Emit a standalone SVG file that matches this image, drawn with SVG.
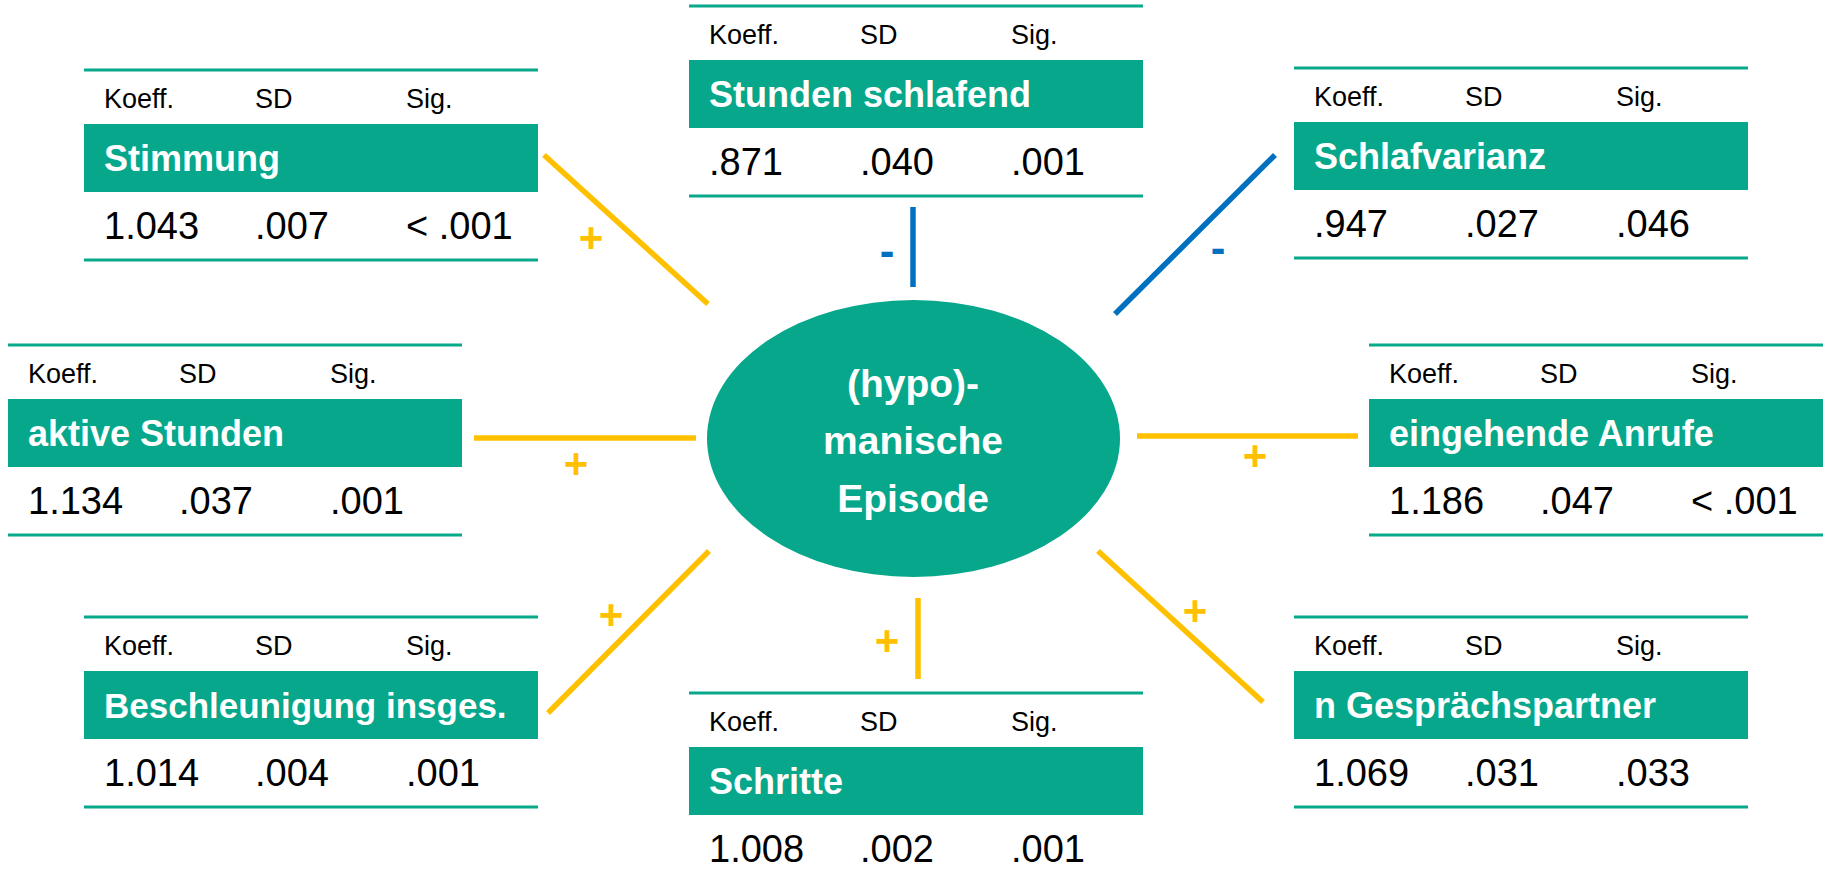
<svg xmlns="http://www.w3.org/2000/svg" width="1828" height="880" viewBox="0 0 1828 880">
<style>
.rule{stroke:#08A88B;stroke-width:3;fill:none}
.band{fill:#06A78A}
.hd{font-family:"Liberation Sans",Arial,sans-serif;font-size:27px;fill:#000}
.lb{font-family:"Liberation Sans",Arial,sans-serif;font-size:36px;font-weight:bold;fill:#fff}
.val{font-family:"Liberation Sans",Arial,sans-serif;font-size:38px;fill:#000}
.ctr{font-family:"Liberation Sans",Arial,sans-serif;font-size:39px;font-weight:bold;fill:#fff;text-anchor:middle}
.pos{stroke:#FFC000;stroke-width:5.5;fill:none}
.neg{stroke:#0070C0;stroke-width:5.5;fill:none}
.plus{font-family:"Liberation Sans",Arial,sans-serif;font-size:42px;font-weight:bold;fill:#FFC000;text-anchor:middle}
.minus{font-family:"Liberation Sans",Arial,sans-serif;font-size:44px;font-weight:bold;fill:#0070C0;text-anchor:middle}
</style>
<defs>
<g id="frame">
<line class="rule" x1="0" y1="0" x2="454" y2="0"/>
<text class="hd" x="20" y="38">Koeff.</text>
<text class="hd" x="171" y="38">SD</text>
<text class="hd" x="322" y="38">Sig.</text>
<rect class="band" x="0" y="54" width="454" height="68"/>
<line class="rule" x1="0" y1="190" x2="454" y2="190"/>
</g>
</defs>
<rect width="1828" height="880" fill="#fff"/>
<g id="connectors">
<line class="pos" x1="544" y1="155" x2="708" y2="304"/>
<line class="neg" x1="913" y1="207" x2="913" y2="287"/>
<line class="neg" x1="1275" y1="155" x2="1115" y2="314"/>
<line class="pos" x1="474" y1="438" x2="696" y2="438"/>
<line class="pos" x1="1137" y1="436" x2="1358" y2="436"/>
<line class="pos" x1="709" y1="551" x2="548" y2="713"/>
<line class="pos" x1="1098" y1="551" x2="1263" y2="702"/>
<line class="pos" x1="918" y1="598" x2="918" y2="679"/>
<text class="plus" x="591" y="252">+</text>
<text class="minus" x="887" y="266">-</text>
<text class="minus" x="1218" y="263">-</text>
<text class="plus" x="576" y="478">+</text>
<text class="plus" x="1255" y="470">+</text>
<text class="plus" x="611" y="629">+</text>
<text class="plus" x="1195" y="625">+</text>
<text class="plus" x="887" y="655">+</text>
</g>
<g id="center">
<ellipse cx="913.5" cy="438.5" rx="206.5" ry="138.5" fill="#06A78A"/>
<text class="ctr" x="913" y="397">(hypo)-</text>
<text class="ctr" x="913" y="454">manische</text>
<text class="ctr" x="913" y="512">Episode</text>
</g>
<g id="stunden-schlafend" transform="translate(689,6)">
<use href="#frame"/>
<text class="lb" x="20" y="101">Stunden schlafend</text>
<text class="val" x="20" y="169">.871</text>
<text class="val" x="171" y="169">.040</text>
<text class="val" x="322" y="169">.001</text>
</g>
<g id="stimmung" transform="translate(84,70)">
<use href="#frame"/>
<text class="lb" x="20" y="101">Stimmung</text>
<text class="val" x="20" y="169">1.043</text>
<text class="val" x="171" y="169">.007</text>
<text class="val" x="322" y="169">&lt; .001</text>
</g>
<g id="schlafvarianz" transform="translate(1294,68)">
<use href="#frame"/>
<text class="lb" x="20" y="101">Schlafvarianz</text>
<text class="val" x="20" y="169">.947</text>
<text class="val" x="171" y="169">.027</text>
<text class="val" x="322" y="169">.046</text>
</g>
<g id="aktive-stunden" transform="translate(8,345)">
<use href="#frame"/>
<text class="lb" x="20" y="101">aktive Stunden</text>
<text class="val" x="20" y="169">1.134</text>
<text class="val" x="171" y="169">.037</text>
<text class="val" x="322" y="169">.001</text>
</g>
<g id="eingehende-anrufe" transform="translate(1369,345)">
<use href="#frame"/>
<text class="lb" x="20" y="101">eingehende Anrufe</text>
<text class="val" x="20" y="169">1.186</text>
<text class="val" x="171" y="169">.047</text>
<text class="val" x="322" y="169">&lt; .001</text>
</g>
<g id="beschleunigung" transform="translate(84,617)">
<use href="#frame"/>
<text class="lb" x="20" y="101" style="font-size:35px">Beschleunigung insges.</text>
<text class="val" x="20" y="169">1.014</text>
<text class="val" x="171" y="169">.004</text>
<text class="val" x="322" y="169">.001</text>
</g>
<g id="gespraechspartner" transform="translate(1294,617)">
<use href="#frame"/>
<text class="lb" x="20" y="101">n Gesprächspartner</text>
<text class="val" x="20" y="169">1.069</text>
<text class="val" x="171" y="169">.031</text>
<text class="val" x="322" y="169">.033</text>
</g>
<g id="schritte" transform="translate(689,693)">
<use href="#frame"/>
<text class="lb" x="20" y="101">Schritte</text>
<text class="val" x="20" y="169">1.008</text>
<text class="val" x="171" y="169">.002</text>
<text class="val" x="322" y="169">.001</text>
</g>
</svg>
